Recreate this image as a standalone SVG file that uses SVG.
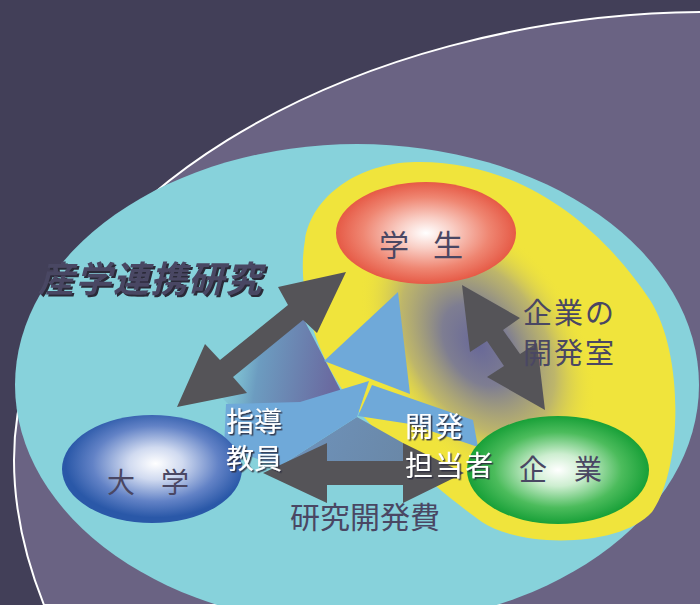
<svg xmlns="http://www.w3.org/2000/svg" width="700" height="605" viewBox="0 0 700 605">
<defs>
<style>
.lbl{font-family:"Noto Sans CJK JP","Noto Sans",sans-serif;fill:#4a4763}
.wht{font-family:"Noto Sans CJK JP","Noto Sans",sans-serif;fill:#ffffff;filter:url(#ds)}
.ttl{font-family:"Noto Sans CJK JP","Noto Sans",sans-serif;fill:#4a4763;font-weight:bold;font-style:italic;filter:url(#ds2)}
.arrow{fill:#555458}
.blue{fill:#6fa9d9}
</style>
<filter id="ds" x="-10%" y="-10%" width="130%" height="130%">
<feDropShadow dx="1.5" dy="1.5" stdDeviation="0.4" flood-color="#2f2e3e" flood-opacity="0.9"/>
</filter>
<filter id="ds2" x="-10%" y="-10%" width="130%" height="130%">
<feDropShadow dx="2" dy="2" stdDeviation="0.4" flood-color="#2a2938" flood-opacity="1"/>
</filter>
<radialGradient id="gRed" cx="50%" cy="50%" r="50%">
<stop offset="0" stop-color="#ffffff"/>
<stop offset="0.3" stop-color="#f9cfc6"/>
<stop offset="0.7" stop-color="#ef8672"/>
<stop offset="1" stop-color="#e65a46"/>
</radialGradient>
<radialGradient id="gBlue" cx="52%" cy="45%" r="50%">
<stop offset="0" stop-color="#ffffff"/>
<stop offset="0.3" stop-color="#d0daf0"/>
<stop offset="0.7" stop-color="#6282c6"/>
<stop offset="1" stop-color="#2a58a8"/>
</radialGradient>
<radialGradient id="gGreen" cx="50%" cy="50%" r="50%">
<stop offset="0" stop-color="#ffffff"/>
<stop offset="0.3" stop-color="#cdeed0"/>
<stop offset="0.7" stop-color="#4cbc5c"/>
<stop offset="1" stop-color="#18a038"/>
</radialGradient>
<radialGradient id="gGlowR" cx="50%" cy="50%" r="50%">
<stop offset="0" stop-color="#686898" stop-opacity="1"/>
<stop offset="0.3" stop-color="#787896" stop-opacity="0.95"/>
<stop offset="0.65" stop-color="#a8a27e" stop-opacity="0.7"/>
<stop offset="1" stop-color="#f0e43c" stop-opacity="0"/>
</radialGradient>
<linearGradient id="gGlowL" gradientUnits="userSpaceOnUse" x1="210" y1="350" x2="335" y2="370">
<stop offset="0" stop-color="#84ccd8" stop-opacity="0"/>
<stop offset="0.4" stop-color="#6c9cc0"/>
<stop offset="1" stop-color="#6a6aa0"/>
</linearGradient>
<linearGradient id="gGlowV" gradientUnits="userSpaceOnUse" x1="300" y1="420" x2="400" y2="460">
<stop offset="0" stop-color="#6e92ba"/>
<stop offset="1" stop-color="#6a88a8"/>
</linearGradient>
</defs>

<g id="background">
<rect x="0" y="0" width="700" height="605" fill="#423f58"/>
<path d="M710,12 C350,12 14,205 14,460 C14,520 30,570 44,605 L710,605 Z" fill="#6a6383" stroke="#ffffff" stroke-width="2"/>
<ellipse cx="357" cy="385" rx="342" ry="241" fill="#87d2db"/>
<path d="M415,162 C520,160 600,225 650,300 C685,355 682,470 652,512 C620,548 520,548 482,522 C440,492 380,440 350,400 C315,355 296,290 305,240 C312,195 360,163 415,162 Z" fill="#f0e43c"/>
<ellipse cx="478" cy="345" rx="150" ry="100" transform="rotate(56 478 345)" fill="url(#gGlowR)"/>
<polygon points="200,375 300,312 342,393 300,404 230,406" fill="url(#gGlowL)"/>
<polygon points="280,466 357,417 403,443 403,462 327,462" fill="url(#gGlowV)"/>
</g>

<g id="center-symbol">
<polygon class="blue" points="398,292 324,361 410,394"/>
<polygon class="blue" points="369,381 300,402 226,404 224,448 280,466 357,417"/>
<polygon class="blue" points="372,385 473,420 478,447 410,424 358,416"/>
</g>

<g id="connectors">
<polygon class="arrow" points="346,272 317,333 303,320 233,377 247,393 177,407 205,344 220,360 288,305 278,287"/>
<polygon class="arrow" points="462,285 520,318 503,330 520,354 537,343 545,410 487,377 504,366 487,341 470,352"/>
<polygon class="arrow" points="263,473 327,443 327,461 403,461 403,443 464,473 403,503 403,485 327,485 327,503"/>
</g>

<g id="node-student">
<ellipse cx="426" cy="233" rx="90" ry="51" fill="url(#gRed)"/>
<text class="lbl" x="394" y="256" font-size="30" text-anchor="middle">学</text>
<text class="lbl" x="448" y="256" font-size="30" text-anchor="middle">生</text>
</g>

<g id="node-university">
<ellipse cx="152" cy="469" rx="90" ry="54" fill="url(#gBlue)"/>
<text class="lbl" x="121" y="493" font-size="28" text-anchor="middle">大</text>
<text class="lbl" x="175" y="493" font-size="28" text-anchor="middle">学</text>
</g>

<g id="node-company">
<ellipse cx="558" cy="470" rx="91" ry="54" fill="url(#gGreen)"/>
<text class="lbl" x="533" y="480" font-size="28" text-anchor="middle">企</text>
<text class="lbl" x="588" y="480" font-size="28" text-anchor="middle">業</text>
</g>

<g id="labels">
<text class="ttl" x="38" y="292" font-size="36" letter-spacing="1.5">産学連携研究</text>
<text class="lbl" x="523" y="324" font-size="29" letter-spacing="2">企業の</text>
<text class="lbl" x="523" y="364" font-size="29" letter-spacing="2">開発室</text>
<text class="lbl" x="365" y="528" font-size="30" text-anchor="middle">研究開発費</text>
<text class="wht" x="226" y="432" font-size="28">指導</text>
<text class="wht" x="226" y="469" font-size="28">教員</text>
<text class="wht" x="405" y="437" font-size="28" letter-spacing="2">開発</text>
<text class="wht" x="405" y="476" font-size="28" letter-spacing="2">担当者</text>
</g>
</svg>
